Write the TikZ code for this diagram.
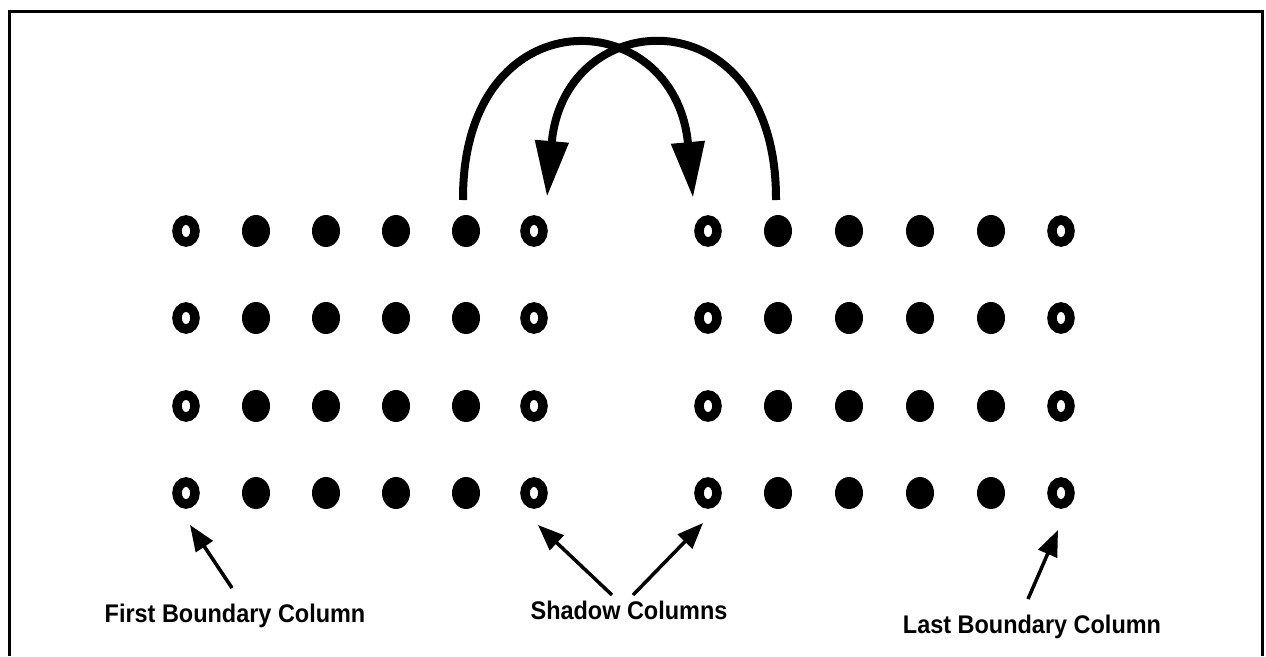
\documentclass[tikz,border=0pt]{standalone}
\usepackage{fontspec}
\newfontfamily\lblfont{Liberation Sans}
\newcommand{\lbltext}[1]{\scalebox{0.92}[1]{\lblfont\bfseries\fontsize{25.5}{30}\selectfont #1}}
\usetikzlibrary{arrows.meta,shapes.geometric}
\begin{document}
\begin{tikzpicture}[x=1pt,y=-1pt,
  dotfull/.style={ellipse,fill=black,minimum width=28pt,minimum height=32pt,inner sep=0pt,outer sep=0pt},
  dotring/.style={ellipse,draw=black,line width=9.5pt,minimum width=18pt,minimum height=22pt,inner sep=0pt,outer sep=0pt},
  swaparc/.style={line width=8pt,-{Triangle[length=56pt,width=32pt]}},
  ptr/.style={line width=3.5pt,-{Triangle[length=26pt,width=20pt]}},
  lbl/.style={anchor=base,inner sep=0pt}]
\useasboundingbox (0,0) rectangle (1266,656);
\draw[line width=3pt] (9,656) -- (9,11) -- (1262,11) -- (1262,656);
% dots
\foreach \rowy [count=\rowi] in {231,318,406,493}{
  \foreach \coli/\colx in {1/186,6/534,7/708,12/1061}
    \node[dotring] (d-\rowi-\coli) at (\colx,\rowy) {};
  \foreach \coli/\colx in {2/256,3/326,4/396,5/466,8/778,9/849,10/920,11/991}
    \node[dotfull] (d-\rowi-\coli) at (\colx,\rowy) {};
}
% swap arcs
\draw[swaparc] ([shift={(-3pt,31pt)}]d-1-5.center) .. controls (462,-6) and (675,2) .. ([shift={(-15pt,33pt)}]d-1-7.center);
\draw[swaparc] ([shift={(-2pt,31pt)}]d-1-8.center) .. controls (777,-6) and (564,2) .. ([shift={(13pt,34pt)}]d-1-6.center);
% labels
\node[lbl] (first) at (235,622) {\lbltext{First Boundary Column}};
\node[lbl] (shadow) at (629,619) {\lbltext{Shadow Columns}};
\node[lbl] (last) at (1032,633) {\lbltext{Last Boundary Column}};
% pointers
\draw[ptr] ([shift={(-3pt,34pt)}]first.base) -- ([shift={(4pt,-32pt)}]d-4-1.center);
\draw[ptr] ([shift={(-17pt,24pt)}]shadow.base) -- ([shift={(4pt,-32pt)}]d-4-6.center);
\draw[ptr] ([shift={(4pt,24pt)}]shadow.base) -- ([shift={(-5pt,-30pt)}]d-4-7.center);
\draw[ptr] ([shift={(-4pt,34pt)}]last.base) -- ([shift={(-3pt,-37pt)}]d-4-12.center);
\end{tikzpicture}
\end{document}
